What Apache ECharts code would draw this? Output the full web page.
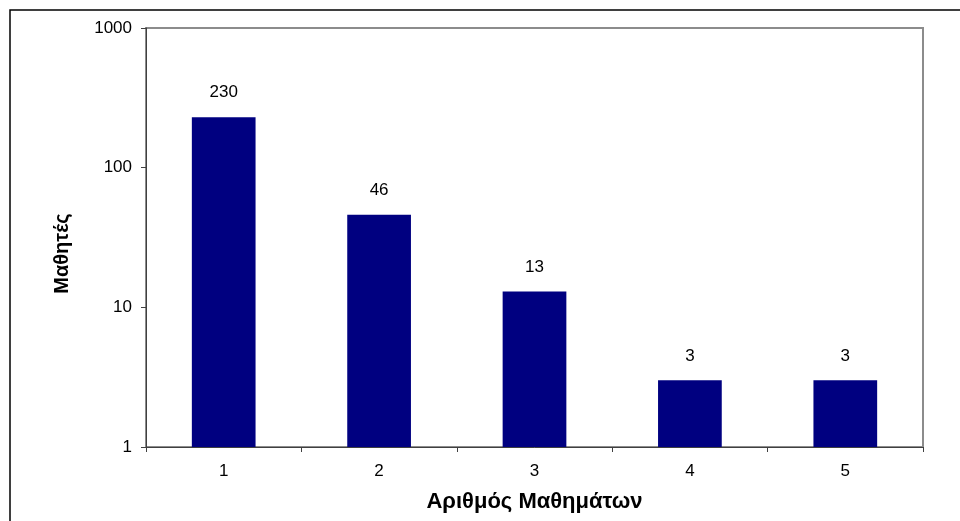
<!DOCTYPE html>
<html>
<head>
<meta charset="utf-8">
<script src="https://cdn.jsdelivr.net/npm/echarts@6/dist/echarts.min.js"></script>
<style>
html,body{margin:0;padding:0;background:#fff;}
#c{width:960px;height:521px;}
</style>
</head>
<body>
<div id="c"></div>
<script>
var categories = ['1', '2', '3', '4', '5'];
var students = [230, 46, 13, 3, 3];
var yTickLabels = ['1', '10', '100', '1000'];
var xTitle = 'Αριθμός Μαθημάτων';
var yTitle = 'Μαθητές';

var chart = echarts.init(document.getElementById('c'), null, {renderer: 'canvas'});
var font = 'Liberation Sans, Arial, sans-serif';
chart.setOption({
  animation: false,
  backgroundColor: '#fff',
  graphic: [{
    type: 'rect',
    shape: {x: 10, y: 10, width: 1200, height: 800},
    style: {fill: 'none', stroke: '#000', lineWidth: 1.5},
    silent: true
  }],
  grid: {
    left: 146, top: 28, right: 37, bottom: 74,
    show: true, borderColor: '#8c8c8c', borderWidth: 2, backgroundColor: '#fff'
  },
  xAxis: {
    type: 'category',
    data: categories,
    name: xTitle,
    nameLocation: 'middle',
    nameGap: 44,
    nameTextStyle: {fontFamily: font, fontSize: 22, fontWeight: 'bold', color: '#000', padding: [0, 0, 0, 0]},
    axisLine: {lineStyle: {color: '#404040', width: 1}},
    axisTick: {show: true, inside: false, length: 5, lineStyle: {color: '#404040'}},
    axisLabel: {fontFamily: font, fontSize: 17, color: '#000', margin: 16},
    splitLine: {show: false}
  },
  yAxis: {
    type: 'log',
    logBase: 10,
    min: 1,
    max: 1000,
    name: yTitle,
    nameLocation: 'middle',
    nameGap: 74,
    nameRotate: 90,
    nameTextStyle: {fontFamily: font, fontSize: 20, fontWeight: 'bold', color: '#000', padding: [0, 0, 0, -32]},
    axisLine: {show: true, lineStyle: {color: '#404040', width: 1}},
    axisTick: {show: true, inside: false, length: 5, lineStyle: {color: '#404040'}},
    axisLabel: {
      fontFamily: font, fontSize: 17, color: '#000', margin: 14,
      formatter: function (v) {
        var i = Math.round(Math.log10(v));
        return yTickLabels[i] !== undefined ? yTickLabels[i] : String(v);
      }
    },
    splitLine: {show: false}
  },
  series: [{
    type: 'bar',
    data: students,
    barWidth: '41%',
    itemStyle: {color: '#000080'},
    label: {
      show: true, position: 'top', distance: 16,
      fontFamily: font, fontSize: 17, color: '#000'
    }
  }]
});
</script>
</body>
</html>
